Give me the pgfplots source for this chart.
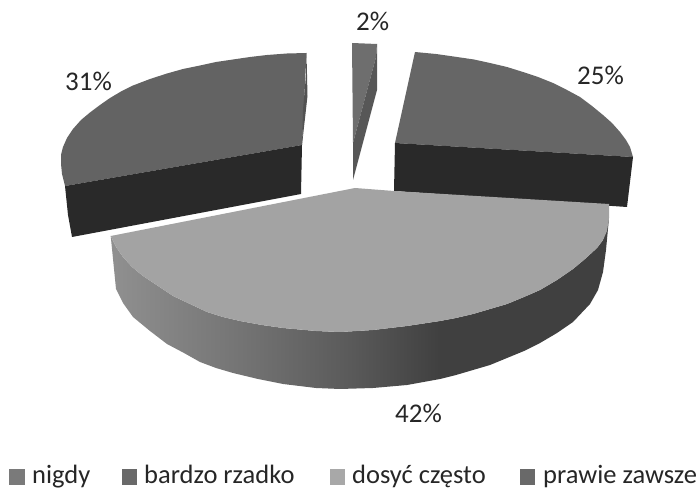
\documentclass[border=0pt]{standalone}
\usepackage{fontspec}
\setmainfont{Carlito}
\usepackage{pgfplots}
\pgfplotsset{compat=1.18}
\definecolor{sideA}{HTML}{909090}
\definecolor{sideB}{HTML}{747474}
\definecolor{sideC}{HTML}{5A5A5A}
\definecolor{sideD}{HTML}{404040}
\definecolor{labeltext}{HTML}{262626}
% rim of the large slice: light on the left, dark from the centre onwards
\pgfdeclarehorizontalshading{rimshade}{100bp}{
  color(0bp)=(sideA); color(25bp)=(sideA); color(38bp)=(sideB);
  color(49bp)=(sideC); color(58bp)=(sideD); color(100bp)=(sideD)}
\newcommand{\lbl}[3]{\node[anchor=base west,inner sep=0pt,text=labeltext,font=\fontsize{#3}{#3}\selectfont] at (axis cs:#1) {#2};}
\begin{document}
\begin{tikzpicture}
\useasboundingbox (0,0) rectangle (697pt,489pt);
\begin{axis}[
  at={(0,0)}, anchor=south west,
  width=697pt, height=489pt, scale only axis,
  xmin=0, xmax=697, ymin=0, ymax=489, y dir=reverse,
  axis lines=none, clip=false,
]
% nigdy, 2%
\addplot[fill=black!57, draw=none] coordinates {(352,43)(377,44)(376,57)(353,143)} -- cycle;
\addplot[fill=black!66, draw=none] coordinates {(376,57)(377,44)(377,90)(353,180)(353,143)} -- cycle;

% prawie zawsze, 31%
\addplot[fill=black!61, draw=none] coordinates {(306.5,53)(287,53.5)(267,55)(250,57)(233,59.5)(216,62)(200,65.5)(183,69)(167,73.5)(150,79)(133,85.5)(121,91.5)(110,98)(100,105)(90,112.5)(81,120)(73,129)(67,138)(63,147)(61,155)(61,164)(62,174)(65,186)(302,145)} -- cycle;
\addplot[fill=black!68, draw=none] coordinates {(306.5,53)(307.5,96)(302,145)(303,110)(306,75)} -- cycle;
\addplot[fill=black!84, draw=none] coordinates {(65,186)(302,145)(301,194)(72,237)(68,215)} -- cycle;

% bardzo rzadko, 25%
\addplot[fill=black!60, draw=none] coordinates {(415,52)(436,54)(457,57)(474,59.5)(490,63)(507,67)(523,72)(538,77)(553,83)(567,90)(580,97)(592,106)(603,115)(612,123)(620,132)(626,140)(630,147)(633,157)(395,143)} -- cycle;
\addplot[fill=black!84, draw=none] coordinates {(395,143)(633,157)(627,207)(394,191)} -- cycle;

% dosyc czesto, 42%: rim first, top face over it
\addplot[shade, shading=rimshade, draw=none] coordinates {(110.7,236)(116,247)(123,257)(132,267)(143,276)(158,286)(173,296)(190,304)(207,312)(223,317)(240,321)(262,325)(283,328)(316,331)(340,332)(373,330)(407,326)(440,321)(456,318)(473,314)(490,309)(507,304)(524,297)(540,290)(557,280)(573,269)(585,259)(597,248)(603,240)(609,218)(606,250)(603,272)(598,290)(590,304)(573,322)(557,333)(540,343)(524,351)(507,358)(490,365)(473,370)(456,375)(440,379)(407,385)(373,388)(340,389)(316,388)(283,384)(258,379)(233,373)(216,368)(200,362)(184,353)(167,344)(150,331)(133,317)(123,303)(116,289)} -- cycle;
\addplot[fill=black!36, draw=none] coordinates {(355,188)(394,191)(609,204)(609,218)(607,231)(603,240)(597,248)(585,259)(573,269)(557,280)(540,290)(524,297)(507,304)(490,309)(473,314)(456,318)(440,321)(407,326)(373,330)(340,332)(316,331)(283,328)(262,325)(240,321)(223,317)(207,312)(190,304)(173,296)(158,286)(143,276)(132,267)(123,257)(116,247)(110.7,236)} -- cycle;

% legend swatches
\addplot[fill=black!52, draw=none] coordinates {(9,469)(25,469)(25,485)(9,485)} -- cycle;
\addplot[fill=black!59, draw=none] coordinates {(122,469)(137,469)(137,485)(122,485)} -- cycle;
\addplot[fill=black!34, draw=none] coordinates {(330,469)(345,469)(345,485)(330,485)} -- cycle;
\addplot[fill=black!59, draw=none] coordinates {(520,469)(535,469)(535,485)(520,485)} -- cycle;

\lbl{356,31}{2\%}{27}
\lbl{577,85}{25\%}{27}
\lbl{65,91}{31\%}{27}
\lbl{395,422}{42\%}{27}
\lbl{32,483}{nigdy}{26.5}
\lbl{144,483}{bardzo rzadko}{26.5}
\lbl{352,483}{dosyć często}{26.5}
\lbl{543,483}{prawie zawsze}{26.5}
\end{axis}
\end{tikzpicture}
\end{document}
